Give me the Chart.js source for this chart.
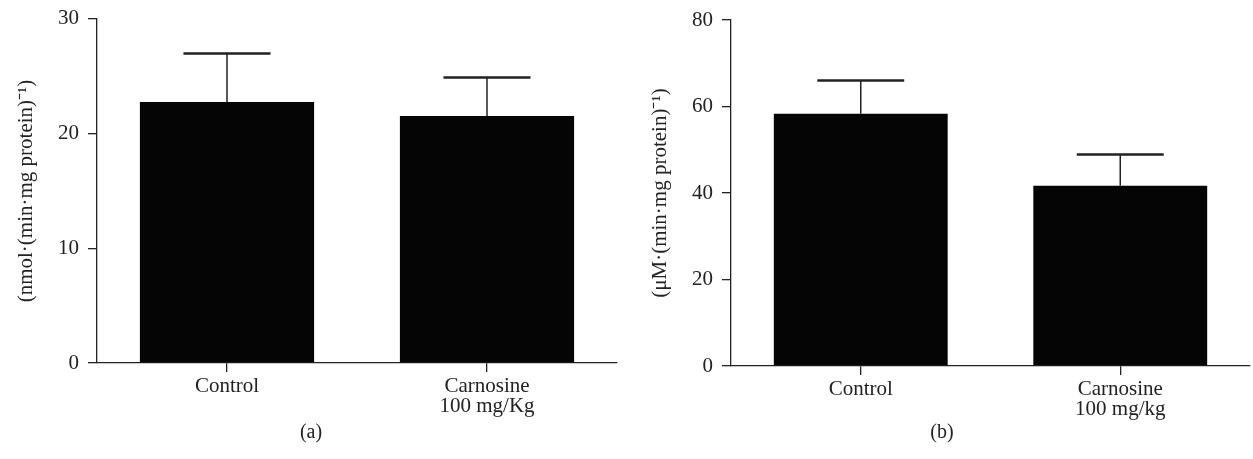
<!DOCTYPE html>
<html>
<head>
<meta charset="utf-8">
<script src="https://cdn.jsdelivr.net/npm/chart.js@4"></script>
<style>
  body{margin:0;background:#fff;width:1253px;height:459px;position:relative;overflow:hidden;font-family:'Liberation Serif',serif;}
  canvas{position:absolute;top:0;}
  .cap{position:absolute;top:420px;font-size:20px;color:#222;transform:translateX(-50%);}
</style>
</head>
<body>
<canvas id="chartA" width="626" height="459" style="left:0"></canvas>
<canvas id="chartB" width="627" height="459" style="left:626px"></canvas>
<div class="cap" style="left:311px">(a)</div>
<div class="cap" style="left:942px">(b)</div>
<script>
const categoriesA = ['Control', ['Carnosine', '100 mg/Kg']];
const meansA = [22.75, 21.55];
const errorsA = [4.25, 3.35];
const ticksA = [0, 10, 20, 30];

const categoriesB = ['Control', ['Carnosine', '100 mg/kg']];
const meansB = [58.3, 41.7];
const errorsB = [7.7, 7.2];
const ticksB = [0, 20, 40, 60, 80];

const ink = '#222';
const font = {family:"'Liberation Serif', serif", size:21, lineHeight:0.95};

// draws the upper SD bar on top of each bar
const errorBars = {
  id:'errorBars',
  afterDatasetsDraw(chart, args, opts){
    const ctx = chart.ctx;
    const yScale = chart.scales.y;
    chart.getDatasetMeta(0).data.forEach((bar, i)=>{
      const v = chart.data.datasets[0].data[i];
      const top = yScale.getPixelForValue(v + opts.errors[i]);
      const half = bar.width / 4;
      ctx.save();
      ctx.strokeStyle = ink;
      ctx.lineWidth = 1.5;
      ctx.beginPath();
      ctx.moveTo(bar.x, bar.y);
      ctx.lineTo(bar.x, top);
      ctx.stroke();
      ctx.lineWidth = 2.5;
      ctx.beginPath();
      ctx.moveTo(bar.x - half, top);
      ctx.lineTo(bar.x + half, top);
      ctx.stroke();
      ctx.restore();
    });
  }
};

function makeChart(id, cats, means, errors, ticks, title, axisLeft, padTop, padRight, titlePad){
  const max = ticks[ticks.length-1];
  return new Chart(document.getElementById(id), {
    type:'bar',
    data:{ labels:cats, datasets:[{ data:means, backgroundColor:'#050505', borderWidth:0,
      barPercentage:0.67, categoryPercentage:1 }] },
    plugins:[errorBars],
    options:{
      responsive:false, animation:false, devicePixelRatio:1,
      layout:{ padding:{ top:padTop, right:padRight, left:0, bottom:0 } },
      plugins:{ legend:{display:false}, tooltip:{enabled:false}, errorBars:{ errors:errors } },
      scales:{
        x:{
          grid:{ display:true, drawOnChartArea:false, drawTicks:true, tickLength:9, offset:false, color:ink, lineWidth:1.3 },
          border:{ display:true, color:ink, width:1.3 },
          ticks:{ color:ink, font:font, padding:5, maxRotation:0, autoSkip:false },
          afterFit(s){ s.height = 459 - padTop - 346; }
        },
        y:{
          min:0, max:max,
          afterBuildTicks(s){ s.ticks = ticks.map(v=>({value:v})); },
          grid:{ display:true, drawOnChartArea:false, drawTicks:true, tickLength:9, color:ink, lineWidth:1.3 },
          border:{ display:true, color:ink, width:1.3 },
          ticks:{ color:ink, font:font, padding:9 },
          title:{ display:true, text:title, color:ink, font:{family:font.family, size:21, lineHeight:1.2}, padding:{top:titlePad, bottom:0} },
          afterFit(s){ s.width = axisLeft; }
        }
      }
    }
  });
}

makeChart('chartA', categoriesA, meansA, errorsA, ticksA, '(nmol\u00b7(min\u00b7mg protein)\u207b\u00b9)', 97, 17, 9, 14);
makeChart('chartB', categoriesB, meansB, errorsB, ticksB, '(\u03bcM\u00b7(min\u00b7mg protein)\u207b\u00b9)', 105, 20, 3, 22);
</script>
</body>
</html>
